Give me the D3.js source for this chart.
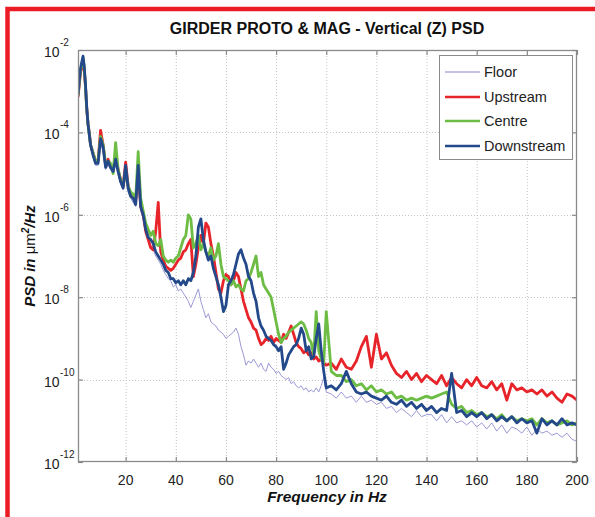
<!DOCTYPE html>
<html><head><meta charset="utf-8">
<script src="https://cdn.jsdelivr.net/npm/d3@7"></script>
<style>body{margin:0;background:#fff;}svg{display:block;font-family:"Liberation Sans",Arial,sans-serif;}</style>
</head><body>
<script>
const titleText = "GIRDER PROTO & MAG - Vertical (Z) PSD";
const seriesNames = ["Floor", "Upstream", "Centre", "Downstream"];
const xTicks = [20, 40, 60, 80, 100, 120, 140, 160, 180, 200];
const yTickExps = [-2, -4, -6, -8, -10, -12];

const freqHz = [1,1.5,2,2.5,3,3.5,4,4.5,5,5.5,6,
7,8,9,10,11,12,13,14,15,16,17,18,19,20,
21,22,23,24,25,26,27,28,29,30,31,32,33,34,35,36,37,38,39,40,
41,42,43,44,45,46,47,48,49,50,51,52,53,54,55,56,57,58,59,60,
61,62,63,64,65,66,67,68,69,70,71,72,73,74,75,76,77,78,79,80,
81,82,83,84,85,86,87,88,89,90,91,92,93,94,95,96,97,98,99,100,
102,104,106,108,110,112,114,116,118,120,122,124,126,128,130,132,134,136,138,140,
142,144,146,148,150,152,154,156,158,160,162,164,166,168,170,172,174,176,178,180,182,184,186,188,190,192,194,196,198,200];

// PSD values as log10(PSD in um^2/Hz)
const floorLog10 = [-3.2,-2.9,-2.6,-2.4,-2.25,-2.5,-2.95,-3.5,-3.85,-4.1,-4.35,
-4.6,-4.8,-4.8,-4.3,-4.45,-4.9,-4.8,-4.9,-5.0,-4.8,-5.0,-5.25,-5.4,-5.1,
-5.45,-5.6,-5.7,-5.8,-5.3,-5.9,-6.1,-6.4,-6.6,-6.75,-6.85,-7.0,-7.1,-7.2,-7.35,-7.45,-7.55,-7.6,-7.75,-7.7,
-7.85,-7.8,-7.9,-8.0,-8.1,-8.25,-8.1,-7.95,-7.8,-8.1,-8.3,-8.5,-8.4,-8.6,-8.65,-8.7,-8.8,-8.85,-8.9,-9.0,
-8.95,-8.9,-8.85,-8.75,-8.9,-9.2,-9.4,-9.65,-9.55,-9.6,-9.5,-9.6,-9.7,-9.6,-9.75,-9.8,-9.6,-9.7,-9.75,-9.85,
-9.8,-9.9,-9.95,-10.0,-9.95,-10.1,-10.05,-10.15,-10.2,-10.15,-10.25,-10.2,-10.3,-10.25,-10.3,-10.2,-10.3,-10.15,-9.95,-10.3,
-10.35,-10.45,-10.3,-10.45,-10.4,-10.55,-10.4,-10.55,-10.5,-10.6,-10.55,-10.7,-10.65,-10.8,-10.7,-10.8,-10.9,-10.75,-10.9,-10.85,
-10.85,-11.0,-10.85,-11.05,-10.9,-11.05,-11.0,-11.1,-11.0,-11.15,-11.05,-11.2,-11.05,-11.25,-11.1,-11.3,-11.15,-11.2,-11.3,-11.15,-11.35,-11.2,-11.3,-11.25,-11.35,-11.3,-11.4,-11.3,-11.45,-11.5];

const upstreamLog10 = [-3.15,-2.85,-2.55,-2.4,-2.25,-2.5,-2.9,-3.45,-3.8,-4.0,-4.3,
-4.5,-4.7,-4.7,-3.95,-4.3,-4.8,-4.65,-4.8,-4.9,-4.6,-4.9,-5.15,-5.3,-4.72,
-5.3,-5.5,-5.55,-5.7,-4.9,-5.8,-6.0,-6.4,-6.6,-6.8,-6.85,-6.4,-5.7,-6.9,-7.1,-7.25,-7.3,-7.35,-7.3,-7.2,
-7.1,-7.05,-6.9,-6.85,-6.7,-6.6,-7.5,-7.2,-6.8,-6.5,-6.7,-6.2,-6.3,-6.7,-7.0,-7.4,-7.8,-7.9,-7.6,-7.45,
-7.5,-7.7,-7.6,-7.4,-7.5,-7.8,-8.1,-8.3,-8.5,-8.6,-8.75,-8.8,-9.0,-9.15,-9.1,-9.0,-9.05,-8.95,-9.1,-9.0,
-9.05,-9.1,-8.9,-9.0,-8.85,-8.7,-8.9,-9.1,-9.2,-9.25,-9.35,-9.3,-9.4,-9.35,-9.5,-9.45,-9.55,-9.5,-9.6,-9.65,
-9.6,-9.75,-9.5,-9.7,-9.75,-9.55,-9.2,-8.95,-9.7,-8.9,-9.5,-9.35,-9.65,-9.85,-9.95,-9.8,-10.0,-9.85,-10.05,-9.9,
-10.0,-10.1,-9.9,-10.15,-9.95,-10.1,-10.2,-10.0,-10.15,-9.95,-10.15,-10.2,-10.05,-10.25,-10.1,-10.5,-10.1,-10.25,-10.2,-10.3,-10.25,-10.35,-10.25,-10.4,-10.3,-10.45,-10.55,-10.35,-10.4,-10.5];

const centreLog10 = [-3.1,-2.8,-2.5,-2.35,-2.2,-2.45,-2.9,-3.45,-3.8,-4.05,-4.3,
-4.5,-4.7,-4.7,-4.1,-4.3,-4.75,-4.7,-4.75,-5.0,-4.25,-4.9,-5.15,-5.3,-4.9,
-5.3,-5.45,-5.5,-5.6,-4.47,-5.6,-5.9,-6.2,-6.35,-6.5,-6.4,-6.7,-6.75,-6.6,-7.0,-7.1,-7.15,-7.1,-7.15,-7.05,
-7.0,-6.8,-6.6,-6.5,-6.0,-6.1,-6.8,-6.7,-6.5,-6.85,-6.7,-6.9,-7.0,-6.8,-7.1,-7.0,-6.7,-7.2,-7.5,-7.55,
-7.6,-7.7,-7.6,-7.75,-7.7,-7.8,-7.85,-7.6,-7.55,-7.4,-7.2,-7.0,-7.5,-7.4,-7.7,-7.8,-7.9,-8.0,-8.3,-8.6,
-8.9,-9.1,-9.0,-8.95,-8.85,-8.8,-8.75,-8.7,-8.65,-8.6,-8.65,-8.8,-9.0,-9.1,-9.4,-8.35,-9.3,-9.5,-9.6,-8.35,
-9.8,-9.9,-9.9,-10.05,-10.0,-10.15,-10.1,-10.25,-10.15,-10.3,-10.25,-10.35,-10.3,-10.45,-10.4,-10.5,-10.45,-10.5,-10.45,-10.4,
-10.45,-10.4,-10.35,-10.3,-10.6,-10.7,-10.65,-10.8,-10.75,-10.85,-10.8,-10.9,-10.85,-10.95,-10.85,-11.0,-10.9,-11.0,-10.95,-11.0,-10.95,-11.1,-10.95,-11.05,-11.0,-11.1,-11.05,-11.0,-11.1,-11.05];

const downstreamLog10 = [-3.1,-2.75,-2.45,-2.3,-2.15,-2.4,-2.85,-3.4,-3.8,-4.05,-4.3,
-4.55,-4.75,-4.75,-4.15,-4.35,-4.85,-4.7,-4.85,-4.95,-4.65,-4.95,-5.2,-5.35,-4.8,
-5.35,-5.55,-5.6,-5.75,-4.8,-5.8,-6.0,-6.35,-6.55,-6.6,-6.7,-6.9,-7.0,-7.1,-7.2,-7.35,-7.4,-7.55,-7.55,-7.65,
-7.6,-7.7,-7.6,-7.7,-7.55,-7.6,-7.4,-7.0,-6.3,-6.1,-6.6,-6.9,-7.1,-7.0,-7.3,-7.5,-7.7,-8.0,-8.35,-8.2,
-7.7,-7.6,-7.45,-7.2,-6.95,-6.85,-7.05,-7.2,-7.5,-7.6,-7.9,-8.1,-8.5,-8.7,-8.8,-8.95,-9.0,-9.05,-9.15,-9.2,
-9.3,-9.2,-9.75,-9.6,-9.4,-9.3,-9.2,-9.15,-9.0,-8.75,-8.9,-9.3,-9.2,-9.5,-9.45,-9.0,-8.65,-9.3,-9.8,-10.2,
-10.15,-10.25,-10.1,-9.8,-10.1,-10.3,-10.35,-10.3,-10.4,-10.45,-10.5,-10.4,-10.55,-10.6,-10.5,-10.65,-10.55,-10.7,-10.6,-10.75,
-10.65,-10.8,-10.7,-10.75,-9.85,-10.8,-10.75,-10.9,-10.8,-10.9,-10.8,-10.95,-10.85,-11.0,-10.9,-11.0,-10.9,-11.05,-10.95,-11.05,-11.0,-11.3,-10.95,-11.1,-11.0,-11.1,-10.95,-11.1,-11.05,-11.1];

const seriesColors = ["#9b98d6", "#e8242b", "#6dbd45", "#24498a"];
const seriesWidths = [1, 2.8, 2.8, 2.8];

const W = 595, H = 517;
const svg = d3.select("body").append("svg").attr("width", W).attr("height", H);

// red frame
svg.append("rect").attr("x", 7.5).attr("y", 9).attr("width", 640).attr("height", 600)
  .attr("fill", "none").attr("stroke", "#ec1c24").attr("stroke-width", 4.5);

const m = {left: 78, top: 50, right: 577, bottom: 462};
const x = d3.scaleLinear().domain([1, 200]).range([m.left, m.right]);
const y = d3.scaleLog().domain([1e-12, 1e-2]).range([m.bottom, m.top]);

// grid
const grid = svg.append("g").attr("stroke", "#c4c4c4").attr("stroke-dasharray", "1,2").attr("stroke-width", 1);
xTicks.slice(0, -1).forEach(t => grid.append("line").attr("x1", x(t)+0.5).attr("x2", x(t)+0.5).attr("y1", m.top).attr("y2", m.bottom));
yTickExps.slice(1, -1).forEach(e => grid.append("line").attr("y1", Math.round(y(Math.pow(10, e)))+0.5).attr("y2", Math.round(y(Math.pow(10, e)))+0.5).attr("x1", m.left).attr("x2", m.right));

// lines
svg.append("clipPath").attr("id", "clip").append("rect")
  .attr("x", m.left).attr("y", m.top).attr("width", m.right - m.left).attr("height", m.bottom - m.top);
const allSeries = [floorLog10, upstreamLog10, centreLog10, downstreamLog10].map(arr => arr.map((e, i) => ({f: freqHz[i], v: Math.pow(10, e)})));
const line = d3.line().x(d => x(d.f)).y(d => y(d.v));
const lg = svg.append("g").attr("clip-path", "url(#clip)");
allSeries.forEach((s, i) => {
  lg.append("path").datum(s).attr("d", line).attr("fill", "none")
    .attr("stroke", seriesColors[i]).attr("stroke-width", seriesWidths[i]).attr("stroke-linejoin", "round");
});

// axes box & ticks
const axisColor = "#8a8a8a";
svg.append("rect").attr("x", m.left+0.5).attr("y", m.top+0.5).attr("width", m.right - m.left - 1).attr("height", m.bottom - m.top - 1)
  .attr("fill", "none").attr("stroke", axisColor).attr("stroke-width", 1.3);
const xAxisB = d3.axisBottom(x).tickValues(xTicks).tickSize(-5).tickFormat("");
const xAxisT = d3.axisTop(x).tickValues(xTicks).tickSize(-5).tickFormat("");
const yVals = yTickExps.map(e => Math.pow(10, e));
const yAxisL = d3.axisLeft(y).tickValues(yVals).tickSize(-5).tickFormat("");
const yAxisR = d3.axisRight(y).tickValues(yVals).tickSize(-5).tickFormat("");
[[xAxisB, `translate(0,${m.bottom})`], [xAxisT, `translate(0,${m.top})`], [yAxisL, `translate(${m.left},0)`], [yAxisR, `translate(${m.right},0)`]].forEach(([ax, tr]) => {
  const g = svg.append("g").attr("transform", tr).call(ax);
  g.select(".domain").remove();
  g.selectAll("line").attr("stroke", axisColor).attr("stroke-width", 1.2);
});

// x tick labels
svg.append("g").selectAll("text").data(xTicks).join("text")
  .attr("x", d => x(d)).attr("y", 485).attr("text-anchor", "middle")
  .attr("font-size", 14).attr("fill", "#222").text(d => d);

// y tick labels: 10^e
const yl = svg.append("g").selectAll("g").data(yTickExps).join("g");
yl.append("text").attr("x", 44).attr("y", e => y(Math.pow(10, e)) + 7)
  .attr("font-size", 14).attr("fill", "#222").text("10");
yl.append("text").attr("x", 60).attr("y", e => y(Math.pow(10, e)) - 4)
  .attr("font-size", 10).attr("fill", "#222").text(e => "-" + Math.abs(e));

// title
svg.append("text").attr("x", 327).attr("y", 34).attr("text-anchor", "middle")
  .attr("font-size", 16).attr("font-weight", "bold").attr("fill", "#111").text(titleText);

// x label
svg.append("text").attr("x", 327).attr("y", 502).attr("text-anchor", "middle")
  .attr("font-size", 15.5).attr("font-weight", "bold").attr("font-style", "italic").attr("fill", "#111").text("Frequency in Hz");

// y label
const ylab = svg.append("text").attr("transform", "translate(35,256) rotate(-90)").attr("text-anchor", "middle")
  .attr("font-size", 15).attr("font-weight", "bold").attr("font-style", "italic").attr("fill", "#111");
ylab.append("tspan").text("PSD in ");
ylab.append("tspan").attr("font-weight", "normal").attr("font-style", "normal").text("\u03bcm");
ylab.append("tspan").attr("font-size", 10).attr("dy", -6).text("2");
ylab.append("tspan").attr("dy", 6).text("/Hz");

// legend
const leg = svg.append("g");
leg.append("rect").attr("x", 439.5).attr("y", 55.5).attr("width", 133).attr("height", 104)
  .attr("fill", "#fff").attr("stroke", "#8a8a8a").attr("stroke-width", 1);
const legY = [72, 97, 121, 146];
seriesNames.forEach((n, i) => {
  leg.append("line").attr("x1", 445).attr("x2", 480).attr("y1", legY[i]).attr("y2", legY[i])
    .attr("stroke", i === 0 ? "#c3c0e8" : seriesColors[i]).attr("stroke-width", i === 0 ? 2 : 2.6);
  leg.append("text").attr("x", 484).attr("y", legY[i] + 5).attr("font-size", 14.5).attr("fill", "#222").text(n);
});
</script>
</body></html>
